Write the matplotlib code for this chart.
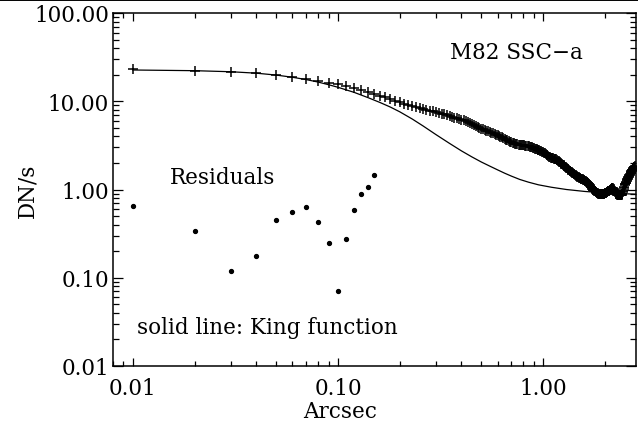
import numpy as np
import matplotlib.pyplot as plt
from matplotlib.lines import Line2D
from matplotlib.ticker import LogLocator, FormatStrFormatter, NullFormatter

plt.rcParams['font.family'] = ['DejaVu Serif']

# radial profile of M82 SSC-a, sampled every 0.01 arcsec
profile_dn = [
    23.0, 22.2, 21.6, 20.9, 20.0, 19.0, 17.9, 16.9, 16.1, 15.5,
    14.9, 14.2, 13.5, 12.8, 12.2, 11.6, 11.1, 10.6, 10.1, 9.7,
    9.35, 9.05, 8.8, 8.55, 8.35, 8.15, 8.0, 7.85, 7.7, 7.55,
    7.4, 7.25, 7.1, 6.95, 6.8, 6.65, 6.5, 6.4, 6.3, 6.2,
    6.1, 6.0, 5.85, 5.7, 5.55, 5.4, 5.25, 5.1, 5.0, 4.9,
    4.82, 4.74, 4.66, 4.58, 4.5, 4.42, 4.34, 4.26, 4.18, 4.1,
    4.03, 3.96, 3.89, 3.82, 3.75, 3.68, 3.61, 3.55, 3.49, 3.43,
    3.38, 3.34, 3.30, 3.27, 3.24, 3.22, 3.20, 3.19, 3.18, 3.17,
    3.16, 3.15, 3.14, 3.12, 3.10, 3.07, 3.04, 3.01, 2.98, 2.94,
    2.90, 2.88, 2.86, 2.83, 2.80, 2.77, 2.74, 2.71, 2.68, 2.64,
    2.60, 2.56, 2.52, 2.48, 2.44, 2.40, 2.36, 2.33, 2.30, 2.28,
    2.26, 2.25, 2.24, 2.23, 2.21, 2.19, 2.16, 2.13, 2.10, 2.07,
    2.03, 2.00, 1.97, 1.94, 1.91, 1.88, 1.85, 1.82, 1.79, 1.76,
    1.73, 1.70, 1.68, 1.66, 1.63, 1.61, 1.59, 1.57, 1.55, 1.53,
    1.51, 1.49, 1.47, 1.45, 1.43, 1.42, 1.40, 1.39, 1.37, 1.36,
    1.35, 1.34, 1.33, 1.32, 1.31, 1.30, 1.29, 1.28, 1.27, 1.26,
    1.25, 1.24, 1.23, 1.22, 1.20, 1.18, 1.16, 1.14, 1.12, 1.10,
    1.08, 1.06, 1.04, 1.02, 1.00, 0.99, 0.98, 0.97, 0.96, 0.95,
    0.94, 0.93, 0.92, 0.91, 0.91, 0.90, 0.90, 0.89, 0.89, 0.89,
    0.88, 0.88, 0.88, 0.88, 0.88, 0.89, 0.89, 0.90, 0.90, 0.91,
    0.91, 0.92, 0.92, 0.93, 0.93, 0.94, 0.95, 0.95, 0.96, 0.97,
    0.98, 0.99, 1.00, 1.01, 1.02, 1.03, 1.04, 1.04, 1.03, 1.02,
    1.01, 0.99, 0.97, 0.95, 0.93, 0.91, 0.90, 0.89, 0.88, 0.87,
    0.87, 0.86, 0.86, 0.86, 0.86, 0.86, 0.86, 0.86, 0.86, 0.86,
    0.86, 0.87, 0.88, 0.90, 0.93, 0.96, 1.00, 1.04, 1.08, 1.12,
    1.14, 1.16, 1.18, 1.20, 1.22, 1.25, 1.27, 1.30, 1.32, 1.35,
    1.37, 1.40, 1.42, 1.45, 1.47, 1.50, 1.52, 1.55, 1.57, 1.60,
    1.62, 1.65, 1.67, 1.70, 1.72, 1.75, 1.77, 1.80, 1.82, 1.85,
]
profile_r = np.arange(1, len(profile_dn) + 1) * 0.01

# King function fit
king_r = [0.010, 0.020, 0.030, 0.040, 0.050, 0.060, 0.070, 0.080, 0.090, 0.100,
          0.120, 0.140, 0.160, 0.180, 0.200, 0.230, 0.260, 0.300, 0.350, 0.400,
          0.450, 0.500, 0.550, 0.600, 0.650, 0.700, 0.770, 0.850, 0.950, 1.100,
          1.300, 1.600, 2.000, 2.500, 2.840]
king_dn = [22.6, 22.2, 21.6, 20.8, 19.8, 18.7, 17.6, 16.5, 15.4, 14.4,
           12.6, 11.0, 9.7, 8.6, 7.6, 6.3, 5.25, 4.2, 3.33, 2.74,
           2.34, 2.05, 1.84, 1.67, 1.53, 1.42, 1.30, 1.21, 1.13, 1.06,
           1.00, 0.95, 0.915, 0.895, 0.885]

# residuals
resid_r = [0.01, 0.02, 0.03, 0.04, 0.05, 0.06, 0.07, 0.08, 0.09, 0.10,
           0.11, 0.12, 0.13, 0.14, 0.15]
resid_dn = [0.656, 0.339, 0.118, 0.175, 0.455, 0.556, 0.628, 0.425, 0.25, 0.070,
            0.277, 0.591, 0.89, 1.07, 1.45]

fig = plt.figure(figsize=(6.38, 4.27), dpi=100)
ax = fig.add_axes([113 / 638, 1 - 367 / 427, 523 / 638, 353 / 427])

ax.plot(king_r, king_dn, color='black', lw=0.9)
ax.plot(profile_r, profile_dn, ls='none', marker='+', ms=6.5, mew=1.1, color='black')
ax.plot(resid_r, resid_dn, ls='none', marker='o', ms=2.8, color='black')

ax.set_xscale('log')
ax.set_yscale('log')
ax.set_xlim(0.008, 2.84)
ax.set_ylim(0.01, 100)

for axis in (ax.xaxis, ax.yaxis):
    axis.set_major_locator(LogLocator(base=10))
    axis.set_minor_locator(LogLocator(base=10, subs=np.arange(2, 10)))
    axis.set_major_formatter(FormatStrFormatter('%.2f'))
    axis.set_minor_formatter(NullFormatter())

fs = 15.5
ax.tick_params(which='both', direction='in', top=True, right=True, width=0.9, labelsize=fs)
ax.tick_params(axis='x', which='major', length=6, pad=8)
ax.tick_params(axis='x', which='minor', length=3.5)
ax.tick_params(axis='y', which='major', length=7, pad=3)
ax.tick_params(axis='y', which='minor', length=4)
for s in ax.spines.values():
    s.set_linewidth(1.1)

ax.text(-0.163, 0.50, 'DN/s', transform=ax.transAxes, rotation=90,
        ha='center', va='center', fontsize=fs)
ax.text(0.434, -0.127, 'Arcsec', transform=ax.transAxes,
        ha='center', va='center', fontsize=fs)

ax.text(0.644, 0.889, 'M82 SSC\u2212a', transform=ax.transAxes, ha='left', va='center', fontsize=fs)
ax.text(0.109, 0.535, 'Residuals', transform=ax.transAxes, ha='left', va='center', fontsize=fs)
ax.text(0.046, 0.110, 'solid line: King function', transform=ax.transAxes,
        ha='left', va='center', fontsize=fs)

fig.add_artist(Line2D([0, 1], [1 - 0.8 / 427, 1 - 0.8 / 427], transform=fig.transFigure,
                      color='black', lw=1.4))

fig.savefig('out.png', dpi=100)
